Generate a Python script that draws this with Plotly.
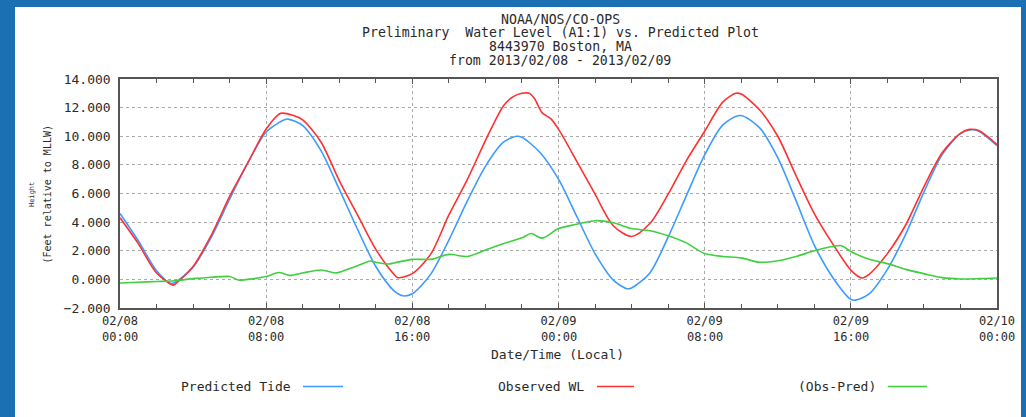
import plotly.graph_objects as go

# ---------------- data (hours since 2013/02/08 00:00, feet relative to MLLW) -------------
pred_hours = [0, 1, 2, 2.75, 3, 4, 5, 6, 7, 8, 9, 9.2, 10, 11, 12, 13, 14, 15, 15.5, 16,
              17, 18, 19, 20, 21, 21.7, 22, 23, 24, 25, 26, 27, 27.75, 28, 29, 30, 31, 32, 33, 33.95,
              35, 36, 37, 38, 39, 40, 40.25, 41, 42, 43, 44, 45, 46, 46.6, 47, 48]
pred_values = [4.6, 2.7, 0.6, -0.28, -0.22, 0.85, 2.95, 5.6, 8.15, 10.3, 11.15, 11.2, 10.75, 9.0, 6.3, 3.5, 0.9, -0.8, -1.15, -1.0,
               0.35, 2.75, 5.45, 7.9, 9.6, 10.0, 9.93, 8.85, 7.0, 4.4, 1.8, -0.05, -0.65, -0.6, 0.45, 2.95, 5.85, 8.7, 10.8, 11.45,
               10.6, 8.5, 5.5, 2.4, 0.15, -1.4, -1.45, -1.02, 0.7, 3.15, 6.1, 8.72, 10.19, 10.45, 10.35, 9.35]

obs_hours = [0, 1, 2, 2.9, 3, 4, 5, 6, 7, 8, 8.8, 9.5, 10, 11, 12, 13, 14, 15, 15.2, 16,
             17, 18, 19, 20, 21, 21.5, 22, 22.4, 22.7, 23.1, 23.6, 24, 25, 26, 27, 28, 29, 30, 31, 32, 33,
             33.7, 34, 35, 36, 37, 38, 39, 40, 40.6, 41, 42, 43, 44, 45, 46, 46.5, 47, 48]
obs_values = [4.3, 2.5, 0.45, -0.4, -0.35, 0.9, 3.1, 5.8, 8.15, 10.5, 11.6, 11.45, 11.15, 9.6, 6.9, 4.5, 2.1, 0.35, 0.12, 0.4,
              1.75, 4.5, 6.95, 9.7, 12.15, 12.75, 13.0, 13.0, 12.6, 11.65, 11.2, 10.5, 8.25, 5.95, 3.75, 3.0, 3.9, 5.95, 8.3, 10.35, 12.4,
              13.0, 12.95, 11.85, 10.0, 7.25, 4.6, 2.5, 0.65, 0.1, 0.35, 1.8, 3.8, 6.47, 8.85, 10.2, 10.48, 10.4, 9.42]

diff_hours = [0, 1, 2, 3, 4, 5, 6, 6.5, 7, 8, 8.7, 9.3, 10, 11, 11.8, 12, 13, 13.7, 14, 14.7,
              15, 16, 17, 18, 19, 20, 21, 22, 22.5, 23.1, 24, 25, 26, 27, 28, 29, 30, 31, 32, 33,
              34, 35, 36, 37, 38, 39, 39.5, 40, 41, 42, 43, 44, 45, 46, 47, 48]
diff_values = [-0.25, -0.2, -0.15, -0.1, 0.05, 0.15, 0.2, -0.05, 0.0, 0.2, 0.48, 0.28, 0.45, 0.65, 0.45, 0.5, 0.95, 1.28, 1.2, 1.07,
               1.15, 1.4, 1.4, 1.75, 1.6, 2.05, 2.5, 2.9, 3.2, 2.88, 3.55, 3.85, 4.1, 3.95, 3.55, 3.4, 3.05, 2.55, 1.8, 1.6,
               1.5, 1.2, 1.3, 1.6, 2.0, 2.3, 2.35, 1.95, 1.4, 1.1, 0.7, 0.4, 0.12, 0.03, 0.05, 0.1]

x_tick_hours = [0, 8, 16, 24, 32, 40, 48]
x_tick_dates = ["02/08", "02/08", "02/08", "02/09", "02/09", "02/09", "02/10"]
x_tick_times = ["00:00", "08:00", "16:00", "00:00", "08:00", "16:00", "00:00"]
y_tick_values = [-2, 0, 2, 4, 6, 8, 10, 12, 14]

title_lines = ["NOAA/NOS/CO-OPS",
               "Preliminary  Water Level (A1:1) vs. Predicted Plot",
               "8443970 Boston, MA",
               "from 2013/02/08 - 2013/02/09"]
series_names = ["Predicted Tide", "Observed WL", "(Obs-Pred)"]
series_colors = ["#3d9bff", "#ff3030", "#3fcf3f"]

# ---------------- layout geometry (pixels) -----------------
W, H = 1026, 417
L, R, T, B = 120, 997, 79, 308
PW, PH = R - L, B - T


def px(x):
    return (x - L) / PW


def py(y):
    return (B - y) / PH


FONT = "DejaVu Sans Mono"
TXT = "#2a2a2a"

fig = go.Figure()
for hrs, vals, name, col in [(pred_hours, pred_values, series_names[0], series_colors[0]),
                             (obs_hours, obs_values, series_names[1], series_colors[1]),
                             (diff_hours, diff_values, series_names[2], series_colors[2])]:
    fig.add_trace(go.Scatter(x=hrs, y=vals, mode="lines", name=name,
                             line=dict(color=col, width=1.6, shape="spline", smoothing=0.8)))

shapes = [
    # white panel on blue background
    dict(type="rect", xref="paper", yref="paper", x0=px(15), x1=px(1021), y0=py(7), y1=py(420),
         fillcolor="white", line=dict(width=0), layer="below"),
]
annotations = []
for i, line in enumerate(title_lines):
    annotations.append(dict(text=line, x=px(560), y=py(19 + i * 13.9), xref="paper", yref="paper",
                            showarrow=False, xanchor="center", yanchor="middle",
                            font=dict(family=FONT, size=13.2, color=TXT)))
# second line of the x tick labels (time of day)
for hv, tt in zip(x_tick_hours, x_tick_times):
    annotations.append(dict(text=tt, x=hv, y=py(336.5), xref="x", yref="paper",
                            showarrow=False, xanchor="center", yanchor="middle",
                            font=dict(family=FONT, size=12, color=TXT)))
annotations.append(dict(text="Date/Time (Local)", x=px(557), y=py(354), xref="paper", yref="paper",
                        showarrow=False, xanchor="center", yanchor="middle",
                        font=dict(family=FONT, size=13, color=TXT)))
annotations.append(dict(text="(Feet relative to MLLW)", x=px(47), y=py(194.5), xref="paper", yref="paper",
                        showarrow=False, textangle=-90, xanchor="center", yanchor="middle",
                        font=dict(family=FONT, size=10, color=TXT)))
annotations.append(dict(text="Height", x=px(32), y=py(195), xref="paper", yref="paper",
                        showarrow=False, textangle=-90, xanchor="center", yanchor="middle",
                        font=dict(family=FONT, size=7, color=TXT)))

legend_pos = [(293, 303, 343), (586, 597, 634), (878, 888, 927)]
for (tx, lx0, lx1), name, col in zip(legend_pos, series_names, series_colors):
    annotations.append(dict(text=name, x=px(tx), y=py(386.5), xref="paper", yref="paper",
                            showarrow=False, xanchor="right", yanchor="middle",
                            font=dict(family=FONT, size=13, color=TXT)))
    shapes.append(dict(type="line", xref="paper", yref="paper", x0=px(lx0), x1=px(lx1),
                       y0=py(386.5), y1=py(386.5), line=dict(color=col, width=1.5)))

fig.update_layout(
    width=W, height=H,
    margin=dict(l=L, r=W - R, t=T, b=H - B, autoexpand=False),
    paper_bgcolor="#1b70b3",
    plot_bgcolor="white",
    showlegend=False,
    shapes=shapes,
    annotations=annotations,
    font=dict(family=FONT, size=13, color=TXT),
)
fig.update_xaxes(
    range=[0, 48], tickmode="array", tickvals=x_tick_hours, ticktext=x_tick_dates,
    showgrid=True, gridcolor="#aaaaaa", griddash="dot", gridwidth=1,
    showline=True, linecolor="#555555", linewidth=1.5, mirror="ticks",
    ticks="inside", ticklen=5, tickcolor="#555555", ticklabelstandoff=1,
    minor=dict(tickmode="linear", tick0=0, dtick=2, ticks="inside", ticklen=4,
               tickcolor="#555555", showgrid=False),
    zeroline=False, tickfont=dict(family=FONT, size=12, color=TXT),
)
fig.update_yaxes(
    range=[-2, 14], tickmode="array", tickvals=y_tick_values, tickformat=".3f",
    showgrid=True, gridcolor="#aaaaaa", griddash="dot", gridwidth=1,
    showline=True, linecolor="#555555", linewidth=1.5, mirror=True,
    ticks="", ticklabelstandoff=5, zeroline=False,
    tickfont=dict(family=FONT, size=13, color=TXT),
)

fig.write_html("out.html")
